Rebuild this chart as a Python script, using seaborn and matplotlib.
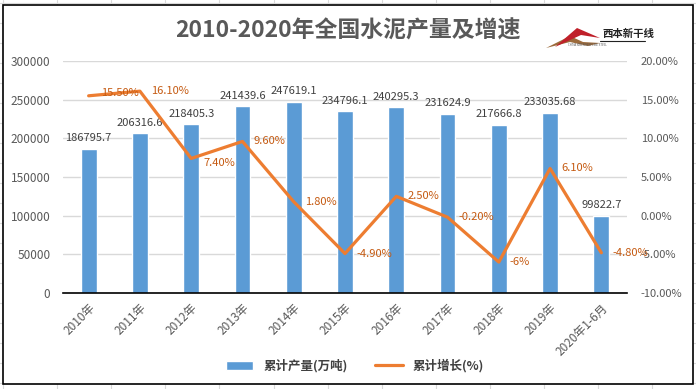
import numpy as np
import pandas as pd
import seaborn as sns
import matplotlib.pyplot as plt
from matplotlib.patches import Rectangle, Polygon
from matplotlib.lines import Line2D

# data
years = ["2010年", "2011年", "2012年", "2013年", "2014年", "2015年",
         "2016年", "2017年", "2018年", "2019年", "2020年1-6月"]
output = [186795.7, 206316.6, 218405.3, 241439.6, 247619.1, 234796.1,
          240295.3, 231624.9, 217666.8, 233035.68, 99822.7]
growth = [15.5, 16.1, 7.4, 9.6, 1.8, -4.9, 2.5, -0.2, -6.0, 6.1, -4.8]
growth_labels = ["15.50%", "16.10%", "7.40%", "9.60%", "1.80%", "-4.90%",
                 "2.50%", "-0.20%", "-6%", "6.10%", "-4.80%"]

df = pd.DataFrame({"year": years, "output": output, "growth": growth})

sns.set_style("white")
plt.rcParams["font.family"] = ["Noto Sans CJK SC", "DejaVu Sans"]

W, H = 696, 389
fig = plt.figure(figsize=(W / 100, H / 100), dpi=100)

# excel cell grid behind the chart
for x in np.arange(3, W, 54.1):
    fig.add_artist(Line2D([x / W, x / W], [0, 1], color="#d9d9d9", lw=0.8, zorder=-3))
for y in np.arange(3, H, 20):
    fig.add_artist(Line2D([0, 1], [1 - y / H, 1 - y / H], color="#d9d9d9", lw=0.8, zorder=-3))
fig.add_artist(Rectangle((3 / W, 1 - 384 / H), 690 / W, 379 / H, transform=fig.transFigure,
                         facecolor="white", edgecolor="black", lw=1.2, zorder=-1))

ax = fig.add_axes([63 / W, 1 - 293 / H, 564 / W, 232 / H])
ax.set_facecolor("none")
sns.barplot(data=df, x="year", y="output", color="#5b9bd5", width=0.31,
            saturation=1, ax=ax, label="累计产量(万吨)", zorder=2)
if ax.get_legend() is not None:
    ax.get_legend().remove()
ax.set_ylim(0, 300000)
ax.set_yticks(range(0, 300001, 50000))
ax.grid(axis="y", color="#d9d9d9", lw=1, zorder=0)
ax.set_xlabel("")
ax.set_ylabel("")
for s in ["top", "right", "left"]:
    ax.spines[s].set_visible(False)
ax.spines["bottom"].set_color("black")
ax.spines["bottom"].set_linewidth(1.2)
ax.tick_params(axis="both", length=0, labelsize=8.5, labelcolor="#595959")
ax.tick_params(axis="y", pad=9)
plt.setp(ax.get_xticklabels(), rotation=45, ha="right", rotation_mode="anchor")
ax.tick_params(axis="x", pad=6)

for i, v in enumerate(output):
    ax.annotate(str(v), (i, v), xytext=(0, 4), textcoords="offset points",
                ha="center", va="bottom", fontsize=8, color="#404040")

ax2 = ax.twinx()
sns.lineplot(x=np.arange(len(years)), y=growth, color="#ed7d31", lw=2.3,
             ax=ax2, label="累计增长(%)", legend=False, zorder=3)
ax2.set_ylim(-10, 20)
ax2.set_yticks(range(-10, 21, 5))
ax2.set_yticklabels([f"{t:.2f}%" for t in range(-10, 21, 5)])
for s in ax2.spines.values():
    s.set_visible(False)
ax2.tick_params(axis="y", length=0, labelsize=8, labelcolor="#595959", pad=10)
ax.set_xlim(-0.5, len(years) - 0.5)
ax2.set_xlim(-0.5, len(years) - 0.5)

offsets = {0: (9, 2), 2: (9, -3)}
for i, (v, t) in enumerate(zip(growth, growth_labels)):
    dx, dy = offsets.get(i, (8, 0))
    ax2.annotate(t, (i, v), xytext=(dx, dy), textcoords="offset points",
                 ha="left", va="center", fontsize=8, color="#c55a11")

# legend
h1, l1 = ax.get_legend_handles_labels()
h2, l2 = ax2.get_legend_handles_labels()
fig.legend(h1 + h2, l1 + l2, loc="center", bbox_to_anchor=(355 / W, 1 - 366 / H),
           ncol=2, frameon=False, handlelength=2.2, columnspacing=2.2,
           prop={"weight": "bold", "size": 9}, labelcolor="#404040")

# title
fig.text(348 / W, 1 - 31 / H, "2010-2020年全国水泥产量及增速", ha="center", va="center",
         fontsize=16.5, fontweight="bold", color="#595959")

# logo
fig.add_artist(Polygon([(546 / W, 1 - 48 / H), (570 / W, 1 - 36 / H), (583 / W, 1 - 42 / H),
                        (600 / W, 1 - 43 / H), (588 / W, 1 - 46 / H), (570 / W, 1 - 42 / H)],
                       closed=True, transform=fig.transFigure, color="#9c6b3c", lw=0))
fig.add_artist(Polygon([(555 / W, 1 - 47 / H), (577 / W, 1 - 28 / H), (600 / W, 1 - 38 / H),
                        (581 / W, 1 - 35 / H)],
                       closed=True, transform=fig.transFigure, color="#c0202a", lw=0))
fig.text(602 / W, 1 - 34 / H, "西本新干线", fontsize=7.5, fontweight="bold", style="italic",
         color="#222222", va="center")
fig.add_artist(Line2D([600 / W, 645 / W], [1 - 41 / H, 1 - 41 / H], color="#222222", lw=0.8))
fig.text(568 / W, 1 - 45 / H, "CHINA XIBEN NEW LINE STEEL", fontsize=2, color="#555555", va="center")

fig.savefig("out.png", dpi=100)
